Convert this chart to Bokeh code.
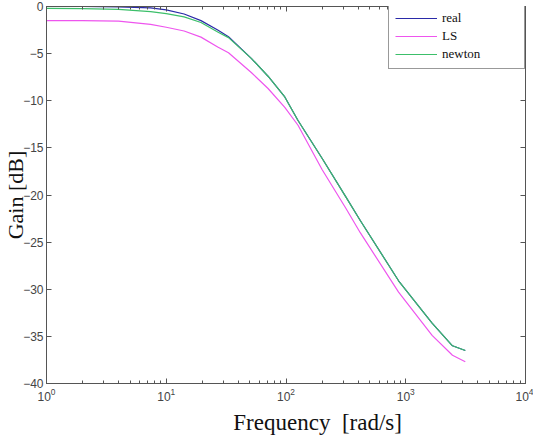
from bokeh.plotting import figure
from bokeh.models import (LogAxis, LinearAxis, LogTicker, FixedTicker,
                          CustomJSTickFormatter, Legend, LegendItem, Range1d)
from bokeh.embed import file_html
from bokeh.resources import INLINE

# Frequency samples [rad/s]
freq = [1, 2.0, 4.0, 7.4, 10, 14.1, 19.5, 26.9, 33.1, 51.3, 70.8, 97.7,
        126, 200, 316, 417, 871, 1660, 2455, 3142]

# Gain curves [dB]
gain_real = [0.0, 0.0, -0.05, -0.15, -0.35, -0.8, -1.5, -2.5, -3.2, -5.5,
             -7.4, -9.6, -12.1, -16.1, -20.2, -22.7, -29.1, -33.6, -36.0, -36.5]
gain_ls = [-1.5, -1.5, -1.55, -1.9, -2.2, -2.6, -3.25, -4.3, -4.9, -7.0,
           -8.7, -10.7, -12.6, -17.3, -21.4, -24.0, -30.3, -34.9, -37.0, -37.7]
gain_newton = [-0.2, -0.22, -0.3, -0.55, -0.75, -1.1, -1.7, -2.7, -3.3, -5.5,
               -7.4, -9.6, -12.1, -16.1, -20.2, -22.7, -29.1, -33.6, -36.0, -36.5]

y_ticks = [0, -5, -10, -15, -20, -25, -30, -35, -40]

AX = "#555555"
TICK_FONT = "Liberation Sans"
SERIF = "Liberation Serif"
NBSP = "\u00a0"

p = figure(width=533, height=440, x_axis_type="log",
           x_range=Range1d(1, 1e4), y_range=Range1d(-40, 0),
           output_backend="svg", toolbar_location=None,
           min_border_left=46, min_border_right=8,
           min_border_top=6, min_border_bottom=57)
p.grid.visible = False
p.outline_line_color = None
p.background_fill_color = "white"
p.border_fill_color = "white"

xticker = LogTicker(num_minor_ticks=10)
yticker = FixedTicker(ticks=y_ticks)
bottom = p.below[0]
left = p.left[0]
bottom.ticker = xticker
left.ticker = yticker

blank = CustomJSTickFormatter(code="return ''")
top = LogAxis(ticker=xticker, formatter=blank, major_label_standoff=0)
right = LinearAxis(ticker=yticker, formatter=blank, major_label_standoff=0)
p.add_layout(top, "above")
p.add_layout(right, "right")

for ax in (bottom, left, top, right):
    ax.axis_line_color = AX
    ax.major_tick_line_color = AX
    ax.minor_tick_line_color = AX
    ax.major_tick_in = 5
    ax.major_tick_out = 0
    ax.minor_tick_in = 3
    ax.minor_tick_out = 0
    ax.major_label_text_font = TICK_FONT
    ax.major_label_text_font_size = "12px"
    ax.major_label_text_color = "#444444"
left.minor_tick_line_color = None
right.minor_tick_line_color = None
bottom.major_label_standoff = 4
left.major_label_standoff = 3

for ax, size in ((left, "22px"), (bottom, "23px")):
    ax.axis_label_text_font = SERIF
    ax.axis_label_text_font_style = "normal"
    ax.axis_label_text_font_size = size
    ax.axis_label_text_color = "#111111"

# y title tucked close against the tick labels
left.axis_label = "Gain [dB]"
left.axis_label_standoff = -8

# x title: leading no-break spaces push it right of the frame centre
bottom.axis_label = NBSP * 11 + "Frequency" + NBSP + " [rad/s]"
bottom.axis_label_standoff = 6

r_real = p.line(freq, gain_real, line_color="#2a2aa8", line_width=1.2)
r_ls = p.line(freq, gain_ls, line_color="#ee55ee", line_width=1.2)
r_newton = p.line(freq, gain_newton, line_color="#3cbf6a", line_width=1.2)

legend = Legend(items=[LegendItem(label="real", renderers=[r_real]),
                       LegendItem(label="LS", renderers=[r_ls]),
                       LegendItem(label="newton", renderers=[r_newton])],
                location=(342, 314), margin=0, padding=6, spacing=2,
                glyph_width=42, glyph_height=14, label_height=14,
                label_standoff=5, label_width=76,
                label_text_font=SERIF, label_text_font_size="13px",
                label_text_color="#111111",
                border_line_color="#333333", border_line_width=1,
                background_fill_alpha=1.0)
p.add_layout(legend)

open("out.html", "w").write(file_html(p, INLINE))
